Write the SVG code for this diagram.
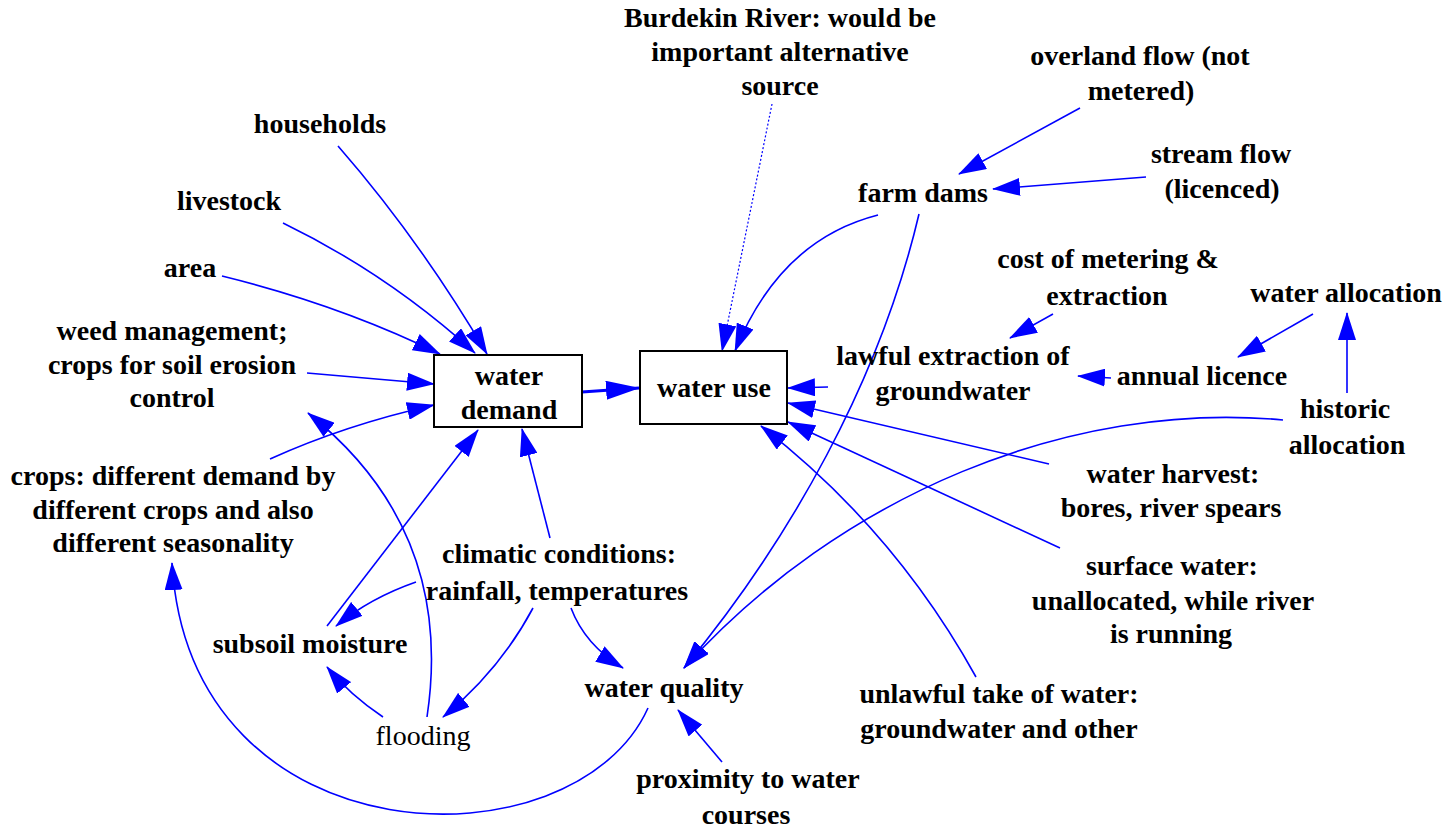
<svg xmlns="http://www.w3.org/2000/svg" width="1447" height="832" viewBox="0 0 1447 832">
<style>
text{font-family:"Liberation Serif","Times New Roman",serif;font-size:28px;font-weight:bold;fill:#000;text-anchor:middle}
text.plain{font-weight:normal}
.box{fill:#fff;stroke:#000;stroke-width:2}
.c{fill:none;stroke:#0000FF;stroke-width:1.6;marker-end:url(#ah)}
.thick{stroke-width:3;marker-end:url(#ahb)}
.dot{stroke-width:1.2;stroke-dasharray:2 2}
</style>
<defs>
<marker id="ah" markerUnits="userSpaceOnUse" markerWidth="28" markerHeight="18" refX="27" refY="9" orient="auto" viewBox="0 0 28 18"><path d="M0,0 L28,9 L0,18 z" fill="#0000FF"/></marker>
<marker id="ahb" markerUnits="userSpaceOnUse" markerWidth="34" markerHeight="19" refX="33" refY="9.5" orient="auto" viewBox="0 0 34 19"><path d="M0,0 L34,9.5 L0,19 z" fill="#0000FF"/></marker>
</defs>
<rect width="1447" height="832" fill="#fff"/>
<g id="connectors">
<path class="c" d="M338,146 Q420,240 487,354"/>
<path class="c" d="M283,223 Q388,274 475,353"/>
<path class="c" d="M222,276 Q340,305 440,354"/>
<path class="c" d="M307,373 L434,384"/>
<path class="c" d="M270,459 Q345,425 434,405"/>
<path class="c" d="M427,717 Q455,530 308,413"/>
<path class="c" d="M327,626 L478,430"/>
<path class="c" d="M416,582 Q370,598 336,626"/>
<path class="c" d="M383,717 Q350,695 327,667"/>
<path class="c" d="M533,608 Q500,670 443,717"/>
<path class="c" d="M550,538 Q535,480 522,429"/>
<path class="c" d="M571,608 Q585,645 623,668"/>
<path class="c" d="M648,708 C575,870 190,865 172,563"/>
<path class="c" d="M722,762 L678,710"/>
<path class="c" d="M919,214 C880,380 790,540 684,668"/>
<path class="c" d="M1283,420 C1070,400 840,495 684,668"/>
<path class="c" d="M1049,464 L788,403"/>
<path class="c" d="M1060,548 L788,422"/>
<path class="c" d="M976,677 Q894,529 761,426"/>
<path class="c" d="M828,387 L788,388"/>
<path class="c" d="M1111,378 L1078,376"/>
<path class="c" d="M1313,314 L1238,357"/>
<path class="c" d="M1347,393 L1347,313"/>
<path class="c" d="M1053,314 L1010,338"/>
<path class="c" d="M1080,108 L959,174"/>
<path class="c" d="M1146,177 L993,189"/>
<path class="c" d="M878,215 Q780,240 735,351"/>
<path class="c dot" d="M772,104 L722,351"/>
<path class="c thick" d="M582,392 L639,388"/>
</g>
<g id="burdekin"><text x="780" y="27">Burdekin River: would be</text><text x="780" y="61">important alternative</text><text x="780" y="95">source</text></g>
<g id="overland"><text x="1140" y="65">overland flow (not</text><text x="1141" y="100">metered)</text></g>
<g id="households"><text x="320" y="133">households</text></g>
<g id="stream"><text x="1221" y="163">stream flow</text><text x="1222" y="198">(licenced)</text></g>
<g id="farmdams"><text x="923" y="202">farm dams</text></g>
<g id="livestock"><text x="229" y="210">livestock</text></g>
<g id="cost"><text x="1108" y="268">cost of metering &amp;</text><text x="1107" y="305">extraction</text></g>
<g id="area"><text x="190" y="277">area</text></g>
<g id="wateralloc"><text x="1346" y="302">water allocation</text></g>
<g id="weed"><text x="172" y="340">weed management;</text><text x="172" y="374">crops for soil erosion</text><text x="172" y="407">control</text></g>
<g id="lawful"><text x="953" y="365">lawful extraction of</text><text x="953" y="400">groundwater</text></g>
<g id="annual"><text x="1202" y="385">annual licence</text></g>
<g id="waterdemand"><rect class="box" x="434" y="355" width="148" height="72"/><text x="509" y="385">water</text><text x="509" y="419">demand</text></g>
<g id="wateruse"><rect class="box" x="640" y="351" width="147" height="73"/><text x="714" y="397">water use</text></g>
<g id="historic"><text x="1345" y="418">historic</text><text x="1347" y="454">allocation</text></g>
<g id="harvest"><text x="1173" y="483">water harvest:</text><text x="1171" y="517">bores, river spears</text></g>
<g id="crops"><text x="173" y="485">crops: different demand by</text><text x="173" y="519">different crops and also</text><text x="173" y="552">different seasonality</text></g>
<g id="climatic"><text x="559" y="563">climatic conditions:</text><text x="557" y="600">rainfall, temperatures</text></g>
<g id="surface"><text x="1172" y="575">surface water:</text><text x="1173" y="610">unallocated, while river</text><text x="1171" y="643">is running</text></g>
<g id="subsoil"><text x="310" y="653">subsoil moisture</text></g>
<g id="quality"><text x="664" y="697">water quality</text></g>
<g id="unlawful"><text x="999" y="703">unlawful take of water:</text><text x="999" y="738">groundwater and other</text></g>
<g id="flooding"><text class="plain" x="423" y="745">flooding</text></g>
<g id="proximity"><text x="748" y="788">proximity to water</text><text x="746" y="824">courses</text></g>
</svg>
